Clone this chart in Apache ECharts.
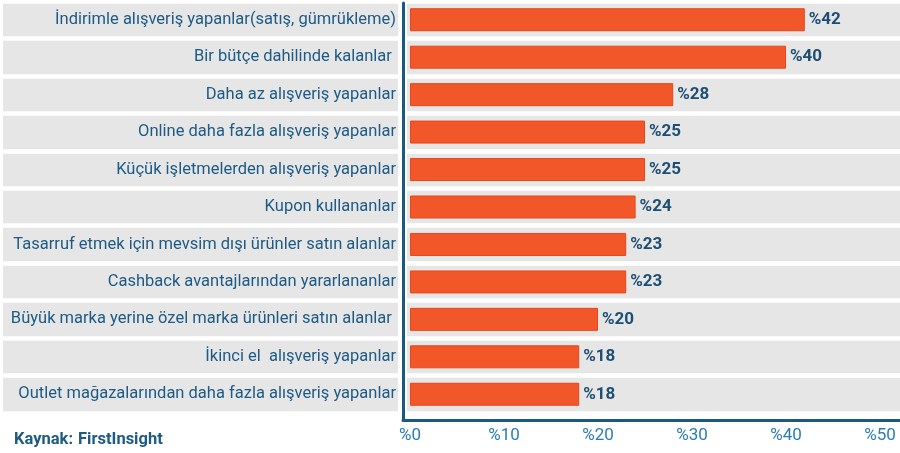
<!DOCTYPE html>
<html>
<head>
<meta charset="utf-8">
<script src="https://cdn.jsdelivr.net/npm/echarts@6/dist/echarts.min.js"></script>
<style>
html,body{margin:0;padding:0;background:#fff;}
#chart{width:900px;height:453px;}
</style>
</head>
<body>
<div id="chart"></div>
<script>
var categories = [
  "İndirimle alışveriş yapanlar(satış, gümrükleme)",
  "Bir bütçe dahilinde kalanlar ",
  "Daha az alışveriş yapanlar",
  "Online daha fazla alışveriş yapanlar",
  "Küçük işletmelerden alışveriş yapanlar",
  "Kupon kullananlar",
  "Tasarruf etmek için mevsim dışı ürünler satın alanlar",
  "Cashback avantajlarından yararlananlar",
  "Büyük marka yerine özel marka ürünleri satın alanlar ",
  "İkinci el  alışveriş yapanlar",
  "Outlet mağazalarından daha fazla alışveriş yapanlar"
];
var values = [42, 40, 28, 25, 25, 24, 23, 23, 20, 18, 18];
var tickValues = [0, 10, 20, 30, 40, 50];
var sourceLabel = "Kaynak:";
var sourceName = "FirstInsight";

var FONT = "Roboto";
var BLUE = "#1d5a85";
var GRAY = "#e6e6e6";

var chart = echarts.init(document.getElementById('chart'), null, {renderer: 'canvas'});

function bgYAxis(gridIndex) {
  return {
    type: 'category', gridIndex: gridIndex, data: categories, inverse: true,
    axisLine: {show: false}, axisTick: {show: false}, axisLabel: {show: false, interval: 0},
    splitArea: {show: true, interval: 0, areaStyle: {color: [GRAY, GRAY]}},
    splitLine: {show: true, interval: 0, lineStyle: {color: '#ffffff', width: 4.5}}
  };
}
function hiddenX(gridIndex) {
  return {
    type: 'value', gridIndex: gridIndex, min: 0, max: 1,
    axisLine: {show: false}, axisTick: {show: false}, axisLabel: {show: false}, splitLine: {show: false}
  };
}

var option = {
  animation: false,
  backgroundColor: '#ffffff',
  title: {
    left: 9, top: 426,
    text: '{b|' + sourceLabel + '} {n|' + sourceName + '}',
    textStyle: {
      rich: {
        b: {fontFamily: FONT, fontSize: 16.5, fontWeight: 'bold', color: BLUE},
        n: {fontFamily: FONT, fontSize: 16.5, color: BLUE}
      }
    }
  },
  grid: [
    {left: 3, width: 395, top: 1, bottom: 40, outerBoundsMode: 'none', containLabel: false},
    {left: 407, right: 0, top: 1, bottom: 40, outerBoundsMode: 'none', containLabel: false},
    {left: 403, right: 0, top: 3, bottom: 33, outerBoundsMode: 'none', containLabel: false},
    {left: 410, right: 20, top: 1, bottom: 40, outerBoundsMode: 'none', containLabel: false}
  ],
  xAxis: [
    hiddenX(0),
    hiddenX(1),
    {
      type: 'value', gridIndex: 2, min: 0, max: 1,
      axisLine: {show: true, lineStyle: {color: '#1b5a7e', width: 3}},
      axisTick: {show: false}, axisLabel: {show: false}, splitLine: {show: false}
    },
    {
      type: 'value', gridIndex: 3, min: tickValues[0], max: tickValues[tickValues.length - 1], interval: 10,
      axisLine: {show: false}, axisTick: {show: false}, splitLine: {show: false},
      axisLabel: {
        margin: 14, color: '#2a7db5', fontFamily: FONT, fontSize: 17,
        formatter: function (v) { return '%' + v; }
      }
    }
  ],
  yAxis: [
    bgYAxis(0),
    bgYAxis(1),
    {
      type: 'value', gridIndex: 2, min: 0, max: 1,
      axisLine: {show: true, lineStyle: {color: '#1b5a7e', width: 3}},
      axisTick: {show: false}, axisLabel: {show: false}, splitLine: {show: false}
    },
    {
      type: 'category', gridIndex: 3, data: categories, inverse: true,
      axisLine: {show: false}, axisTick: {show: false}, splitLine: {show: false},
      axisLabel: {
        interval: 0, margin: 14, color: BLUE, fontFamily: FONT, fontSize: 16.5
      }
    }
  ],
  series: [
    {
      type: 'bar', xAxisIndex: 3, yAxisIndex: 3, data: values, barWidth: 23,
      itemStyle: {color: '#f2572a', borderColor: '#e8461a', borderWidth: 1},
      label: {
        show: true, position: 'right', distance: 4,
        color: '#1d4e75', fontFamily: FONT, fontSize: 17, fontWeight: 'bold',
        formatter: function (p) { return '%' + p.value; }
      }
    }
  ]
};
chart.setOption(option);
</script>
</body>
</html>
